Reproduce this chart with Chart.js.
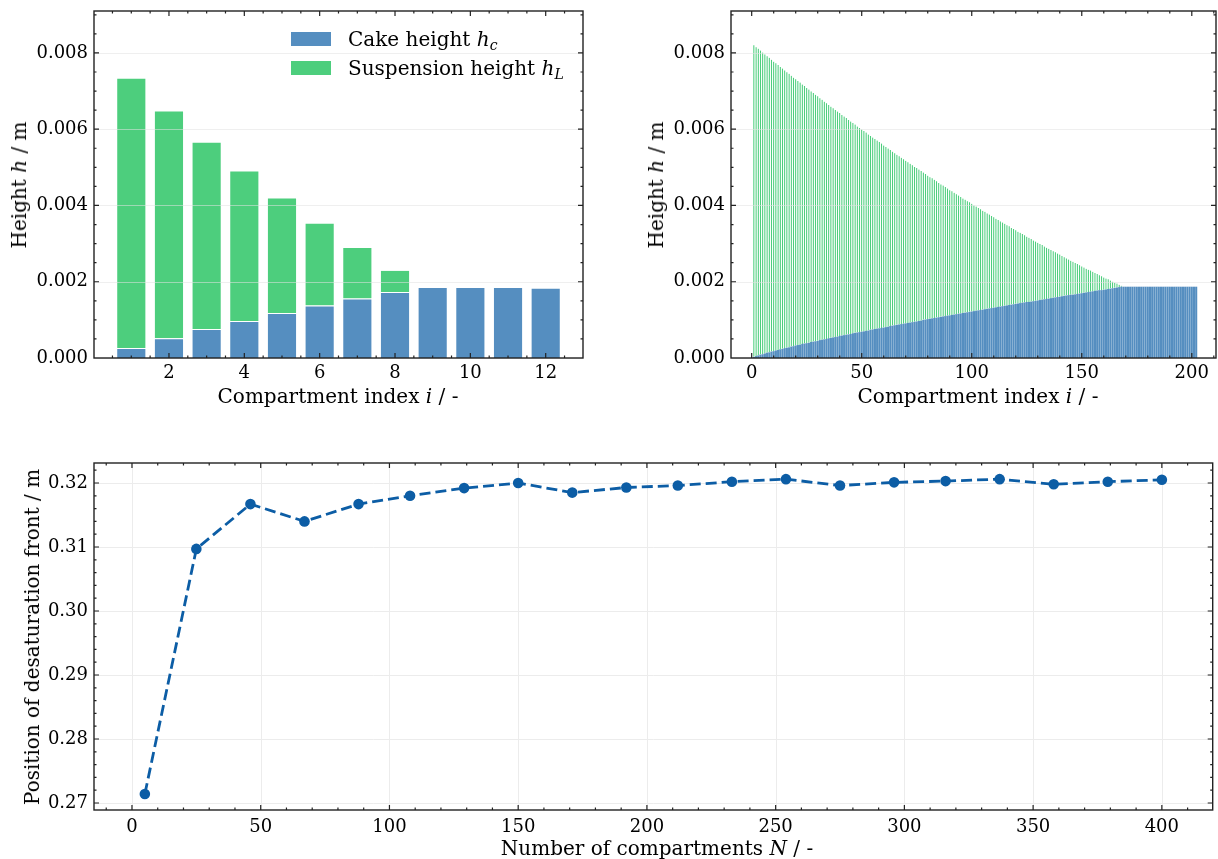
<!DOCTYPE html>
<html>
<head>
<meta charset="utf-8">
<script src="https://cdn.jsdelivr.net/npm/chart.js@4.4.0/dist/chart.umd.min.js"></script>
<style>
  html, body { margin: 0; padding: 0; background: #fff; }
  #figure { position: relative; width: 1218px; height: 859px; font-family: 'DejaVu Serif', serif; font-size: 20px; color: #000; }
  #figure canvas { position: absolute; }
  .label { position: absolute; white-space: nowrap; line-height: 1; transform: translate(-50%, -50%); }
  .label.vertical { transform: translate(-50%, -50%) rotate(-90deg); }
  .legend { position: absolute; left: 291px; top: 24px; }
  .legend-row { display: flex; align-items: center; height: 29.6px; white-space: nowrap; }
  .swatch { width: 40px; height: 14px; margin-right: 17px; }
  sub { font-size: 70%; vertical-align: -0.3em; line-height: 0; }
</style>
</head>
<body>
<div id="figure">
  <canvas id="coarse" width="600" height="420" style="left:0px;top:0px;"></canvas>
  <canvas id="fine" width="598" height="420" style="left:620px;top:0px;"></canvas>
  <canvas id="front" width="1218" height="429" style="left:0px;top:430px;"></canvas>

  <div class="legend">
    <div class="legend-row"><div class="swatch" style="background:#558ec0"></div><span>Cake height <i>h</i><sub><i>c</i></sub></span></div>
    <div class="legend-row"><div class="swatch" style="background:#4dce7d"></div><span>Suspension height <i>h</i><sub><i>L</i></sub></span></div>
  </div>

  <div class="label vertical" style="left:19px;top:185px;">Height <i>h</i> / m</div>
  <div class="label" style="left:338px;top:396px;">Compartment index <i>i</i> / -</div>
  <div class="label vertical" style="left:656px;top:185px;">Height <i>h</i> / m</div>
  <div class="label" style="left:978px;top:396px;">Compartment index <i>i</i> / -</div>
  <div class="label vertical" style="left:32px;top:637px;">Position of desaturation front / m</div>
  <div class="label" style="left:657px;top:848px;">Number of compartments <i>N</i> / -</div>
</div>

<script>
// 12 compartments, heights in m
const coarseIndex = [1, 2, 3, 4, 5, 6, 7, 8, 9, 10, 11, 12];
const coarseCake = [0.00026, 0.00052, 0.00076, 0.00097, 0.00118, 0.00138, 0.00156, 0.00173, 0.00186, 0.00186, 0.00186, 0.00184];
const coarseSuspension = [0.00709, 0.00597, 0.00491, 0.00395, 0.00303, 0.00217, 0.00135, 0.00058, 0, 0, 0, 0];

// 202 compartments, heights in mm
const fineCakeMm = [
  0.03, 0.05, 0.07, 0.09, 0.10, 0.12, 0.14, 0.15, 0.17, 0.18,
  0.20, 0.21, 0.23, 0.24, 0.26, 0.27, 0.28, 0.30, 0.31, 0.33,
  0.34, 0.35, 0.37, 0.38, 0.39, 0.40, 0.42, 0.43, 0.44, 0.45,
  0.47, 0.48, 0.49, 0.50, 0.52, 0.53, 0.54, 0.55, 0.56, 0.58,
  0.59, 0.60, 0.61, 0.62, 0.63, 0.65, 0.66, 0.67, 0.68, 0.69,
  0.70, 0.71, 0.72, 0.74, 0.75, 0.76, 0.77, 0.78, 0.79, 0.80,
  0.81, 0.82, 0.84, 0.85, 0.86, 0.87, 0.88, 0.89, 0.90, 0.91,
  0.92, 0.93, 0.94, 0.95, 0.96, 0.97, 0.98, 1.00, 1.01, 1.02,
  1.03, 1.04, 1.05, 1.06, 1.07, 1.08, 1.09, 1.10, 1.11, 1.12,
  1.13, 1.14, 1.15, 1.16, 1.17, 1.18, 1.19, 1.20, 1.21, 1.22,
  1.23, 1.24, 1.25, 1.26, 1.27, 1.28, 1.29, 1.30, 1.31, 1.32,
  1.33, 1.34, 1.35, 1.36, 1.37, 1.38, 1.39, 1.40, 1.41, 1.42,
  1.43, 1.44, 1.45, 1.46, 1.47, 1.47, 1.48, 1.49, 1.50, 1.51,
  1.52, 1.53, 1.54, 1.55, 1.56, 1.57, 1.58, 1.59, 1.60, 1.61,
  1.62, 1.63, 1.64, 1.65, 1.66, 1.66, 1.67, 1.68, 1.69, 1.70,
  1.71, 1.72, 1.73, 1.74, 1.75, 1.76, 1.77, 1.78, 1.78, 1.79,
  1.80, 1.81, 1.82, 1.83, 1.84, 1.85, 1.86, 1.87, 1.87, 1.87,
  1.87, 1.87, 1.87, 1.87, 1.87, 1.87, 1.87, 1.87, 1.87, 1.87,
  1.87, 1.87, 1.87, 1.87, 1.87, 1.87, 1.87, 1.87, 1.87, 1.87,
  1.87, 1.87, 1.87, 1.87, 1.87, 1.87, 1.87, 1.87, 1.87, 1.87,
  1.87, 1.87
];
const fineSuspensionMm = [
  8.18, 8.11, 8.05, 7.98, 7.92, 7.85, 7.78, 7.73, 7.66, 7.60,
  7.54, 7.48, 7.41, 7.36, 7.29, 7.23, 7.18, 7.11, 7.05, 6.99,
  6.93, 6.88, 6.81, 6.76, 6.70, 6.65, 6.58, 6.53, 6.47, 6.42,
  6.35, 6.30, 6.24, 6.19, 6.12, 6.07, 6.02, 5.96, 5.91, 5.85,
  5.79, 5.74, 5.69, 5.63, 5.58, 5.52, 5.47, 5.41, 5.36, 5.31,
  5.26, 5.21, 5.15, 5.09, 5.04, 4.99, 4.94, 4.89, 4.84, 4.78,
  4.73, 4.68, 4.62, 4.57, 4.52, 4.47, 4.42, 4.37, 4.32, 4.27,
  4.22, 4.17, 4.12, 4.07, 4.03, 3.98, 3.93, 3.87, 3.82, 3.77,
  3.72, 3.68, 3.63, 3.58, 3.53, 3.48, 3.44, 3.39, 3.34, 3.29,
  3.25, 3.20, 3.15, 3.11, 3.06, 3.01, 2.97, 2.92, 2.88, 2.83,
  2.78, 2.74, 2.69, 2.65, 2.60, 2.56, 2.51, 2.47, 2.42, 2.38,
  2.33, 2.29, 2.24, 2.20, 2.16, 2.11, 2.07, 2.02, 1.98, 1.94,
  1.89, 1.85, 1.81, 1.77, 1.72, 1.69, 1.65, 1.60, 1.56, 1.52,
  1.48, 1.44, 1.39, 1.35, 1.31, 1.27, 1.23, 1.19, 1.15, 1.11,
  1.06, 1.02, 0.98, 0.94, 0.90, 0.87, 0.83, 0.79, 0.75, 0.71,
  0.67, 0.63, 0.59, 0.56, 0.52, 0.48, 0.44, 0.40, 0.37, 0.33,
  0.29, 0.26, 0.22, 0.18, 0.14, 0.11, 0.07, 0.03, 0, 0,
  0, 0, 0, 0, 0, 0, 0, 0, 0, 0,
  0, 0, 0, 0, 0, 0, 0, 0, 0, 0,
  0, 0, 0, 0, 0, 0, 0, 0, 0, 0,
  0, 0
];
const fineIndex = fineCakeMm.map((_, i) => i + 1);

// convergence of the desaturation front with grid size
const compartmentCounts = [5, 25, 46, 67, 88, 108, 129, 150, 171, 192, 212, 233, 254, 275, 296, 316, 337, 358, 379, 400];
const frontPosition = [0.2714, 0.3097, 0.3167, 0.3140, 0.3167, 0.3180, 0.3192, 0.3200, 0.3185, 0.3193,
                       0.3196, 0.3202, 0.3206, 0.3196, 0.3201, 0.3203, 0.3206, 0.3198, 0.3202, 0.3205];

const heightTicks = [0, 0.002, 0.004, 0.006, 0.008];
const coarseIndexTicks = [2, 4, 6, 8, 10, 12];
const fineIndexTicks = [0, 50, 100, 150, 200];
const countTicks = [0, 50, 100, 150, 200, 250, 300, 350, 400];
const frontTicks = [0.27, 0.28, 0.29, 0.30, 0.31, 0.32];

const BLUE = '#558ec0';
const GREEN = '#4dce7d';
const LINE = '#0c5da5';

Chart.defaults.font.family = "'DejaVu Serif', serif";
Chart.defaults.font.size = 18;
Chart.defaults.color = '#000';

function minorValues(scale, step) {
  const out = [];
  const start = Math.ceil(scale.min / step - 1e-9);
  const end = Math.floor(scale.max / step + 1e-9);
  for (let k = start; k <= end; k++) out.push(k * step);
  return out;
}

function drawGrid(chart, opts) {
  const { ctx, chartArea: a, scales: { x, y } } = chart;
  ctx.save();
  ctx.strokeStyle = opts.gridColor;
  ctx.lineWidth = 1;
  ctx.beginPath();
  if (opts.gridX) {
    x.ticks.forEach(t => {
      const px = Math.round(x.getPixelForValue(t.value)) + 0.5;
      ctx.moveTo(px, a.top);
      ctx.lineTo(px, a.bottom);
    });
  }
  if (opts.gridY) {
    y.ticks.forEach(t => {
      const py = Math.round(y.getPixelForValue(t.value)) + 0.5;
      ctx.moveTo(a.left, py);
      ctx.lineTo(a.right, py);
    });
  }
  ctx.stroke();
  ctx.restore();
}

// boxed axes with inward ticks on all four sides
function drawFrame(chart, opts) {
  const { ctx, chartArea: a, scales: { x, y } } = chart;
  ctx.save();
  ctx.strokeStyle = '#222';
  ctx.lineWidth = 1.2;
  ctx.beginPath();
  const tickX = (v, len) => {
    const px = x.getPixelForValue(v);
    if (px < a.left + 1 || px > a.right - 1) return;
    ctx.moveTo(px, a.bottom); ctx.lineTo(px, a.bottom - len);
    ctx.moveTo(px, a.top); ctx.lineTo(px, a.top + len);
  };
  const tickY = (v, len) => {
    const py = y.getPixelForValue(v);
    if (py < a.top + 1 || py > a.bottom - 1) return;
    ctx.moveTo(a.left, py); ctx.lineTo(a.left + len, py);
    ctx.moveTo(a.right, py); ctx.lineTo(a.right - len, py);
  };
  x.ticks.forEach(t => tickX(t.value, 5));
  y.ticks.forEach(t => tickY(t.value, 5));
  minorValues(x, opts.minorX).forEach(v => tickX(v, 2.5));
  minorValues(y, opts.minorY).forEach(v => tickY(v, 2.5));
  ctx.stroke();
  ctx.lineWidth = 1.4;
  ctx.strokeRect(a.left, a.top, a.width, a.height);
  ctx.restore();
}

Chart.register({
  id: 'frame',
  beforeDatasetsDraw(chart, args, opts) {
    if (!opts.gridOnTop) drawGrid(chart, opts);
  },
  afterDatasetsDraw(chart, args, opts) {
    if (opts.gridOnTop) drawGrid(chart, opts);
    drawFrame(chart, opts);
  }
});

function linearAxis(o) {
  return {
    type: 'linear',
    min: o.min,
    max: o.max,
    offset: false,
    stacked: !!o.stacked,
    grid: { display: false, drawTicks: false },
    border: { display: false },
    ticks: {
      padding: o.pad,
      autoSkip: false,
      maxRotation: 0,
      callback: v => v.toFixed(o.digits)
    },
    afterBuildTicks: s => { s.ticks = o.ticks.map(v => ({ value: v })); },
    afterFit: s => {
      if (s.isHorizontal()) s.height = o.size;
      else s.width = o.size;
      // keep the plot box where the layout padding puts it
      s.paddingTop = s.paddingBottom = s.paddingLeft = s.paddingRight = 0;
    }
  };
}

function baseOptions(padding, frame) {
  return {
    responsive: false,
    animation: false,
    events: [],
    layout: { padding },
    plugins: {
      legend: { display: false },
      tooltip: { enabled: false },
      frame
    }
  };
}

function profileChart(id, index, cake, suspension, o) {
  const opts = baseOptions(o.padding, {
    gridY: true, gridX: false, gridOnTop: true,
    gridColor: 'rgba(225,225,225,0.55)',
    minorX: o.minorX, minorY: 0.0005
  });
  opts.datasets = { bar: { categoryPercentage: 1, barPercentage: 0.8 } };
  opts.scales = {
    x: linearAxis({ min: o.xMin, max: o.xMax, ticks: o.xTicks, digits: 0, pad: 5, size: o.xSize, stacked: true }),
    y: linearAxis({ min: 0, max: 0.0091, ticks: heightTicks, digits: 3, pad: 6, size: o.ySize, stacked: true })
  };
  return new Chart(document.getElementById(id), {
    type: 'bar',
    data: {
      datasets: [
        {
          label: 'Cake height',
          data: index.map((x, i) => ({ x, y: cake[i] })),
          backgroundColor: BLUE,
          borderColor: o.cakeEdge,
          borderWidth: o.cakeEdgeWidth,
          barPercentage: o.cakeBar
        },
        {
          label: 'Suspension height',
          data: index.map((x, i) => ({ x, y: suspension[i] })),
          backgroundColor: GREEN,
          borderColor: o.suspensionEdge,
          borderWidth: o.suspensionEdgeWidth,
          barPercentage: 0.8
        }
      ]
    },
    options: opts
  });
}

profileChart('coarse', coarseIndex, coarseCake, coarseSuspension, {
  padding: { top: 11, right: 17, left: 0, bottom: 0 },
  xMin: 0.01, xMax: 12.99, xTicks: coarseIndexTicks, minorX: 0.5,
  xSize: 62, ySize: 94,
  cakeEdge: 'rgba(255,255,255,0.55)', cakeEdgeWidth: 1, cakeBar: 0.8,
  suspensionEdge: 'rgba(255,255,255,0.55)', suspensionEdgeWidth: 1
});

profileChart('fine', fineIndex, fineCakeMm.map(v => v / 1000), fineSuspensionMm.map(v => v / 1000), {
  padding: { top: 11, right: 2, left: 0, bottom: 0 },
  xMin: -9.4, xMax: 211, xTicks: fineIndexTicks, minorX: 10,
  xSize: 62, ySize: 111,
  cakeEdge: 'rgba(0,0,0,0)', cakeEdgeWidth: 0, cakeBar: 0.95,
  suspensionEdge: 'rgba(255,255,255,0.45)', suspensionEdgeWidth: 0.3
});

(function frontChart() {
  const opts = baseOptions({ top: 33, right: 3, left: 0, bottom: 0 }, {
    gridX: true, gridY: true, gridOnTop: false,
    gridColor: '#ececec',
    minorX: 10, minorY: 0.002
  });
  opts.scales = {
    x: linearAxis({ min: -14.75, max: 419.75, ticks: countTicks, digits: 0, pad: 7, size: 49 }),
    y: linearAxis({ min: 0.268906, max: 0.323125, ticks: frontTicks, digits: 2, pad: 6, size: 94 })
  };
  new Chart(document.getElementById('front'), {
    type: 'line',
    data: {
      datasets: [{
        label: 'Desaturation front',
        data: compartmentCounts.map((x, i) => ({ x, y: frontPosition[i] })),
        borderColor: LINE,
        backgroundColor: LINE,
        borderWidth: 2.8,
        borderDash: [11, 5],
        pointRadius: 5.3,
        pointBackgroundColor: LINE,
        pointBorderWidth: 0,
        tension: 0,
        fill: false
      }]
    },
    options: opts
  });
})();
</script>
</body>
</html>
